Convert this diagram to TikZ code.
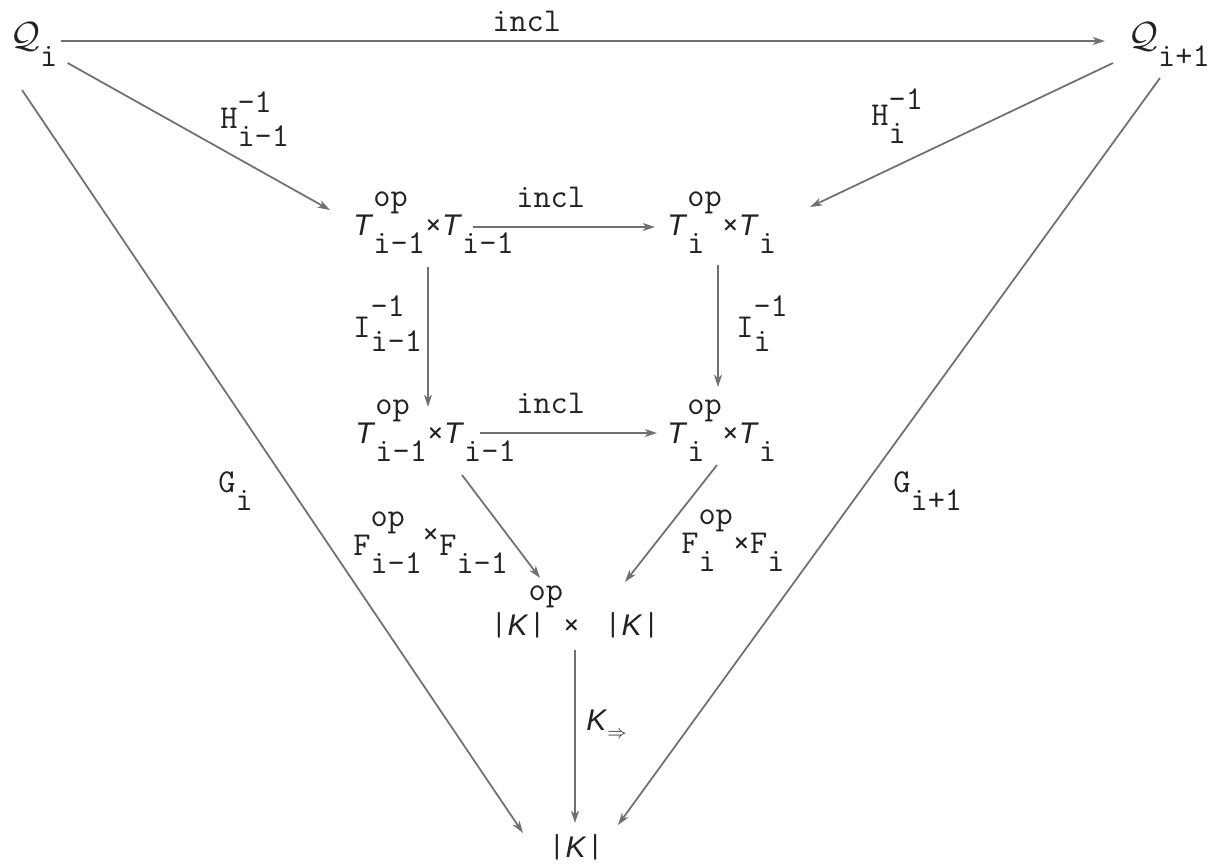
\documentclass[tikz,border=0pt]{standalone}
\usepackage{fontspec}
\setmainfont{Latin Modern Mono}
\setsansfont{Liberation Sans}
\usepackage{tikz}
\usetikzlibrary{arrows.meta,calc}
\definecolor{ink}{HTML}{222222}
\definecolor{lead}{HTML}{707070}
\newcommand{\subtx}[1]{\raisebox{-0.55em}{#1}}
\newcommand{\suptx}[1]{\raisebox{0.45em}{#1}}
\newcommand{\optx}[1]{\rlap{\raisebox{0.85em}{op}}\subtx{#1}}
\newcommand{\Tt}{{\fontsize{17}{20}\selectfont\textsf{\itshape T}}}
\newcommand{\Kk}{{\fontsize{17}{20}\selectfont\textsf{\itshape K}}}
\newcommand{\Qq}{{\fontsize{21}{24}\selectfont$\mathcal{Q}$}}

\begin{document}
\begin{tikzpicture}[
    x=0.02cm, y=-0.02cm,
    every node/.style={inner sep=0pt, text=ink, font=\fontsize{19}{22}\selectfont},
    obj/.style={anchor=base west},
    lbl/.style={anchor=base west},
    arr/.style={-{Stealth[length=7pt,width=4.5pt,inset=2pt]}, draw=lead, line width=1pt}
]
    \useasboundingbox (0,0) rectangle (1219,865);

    % Objects
    \node[obj] (Qi) at (10,48) {\Qq\subtx{i}};
    \node[obj] (Qj) at (1128,48) {\Qq\subtx{i+1}};
    \node[obj] (tl) at (353,235) {\Tt\optx{i-1}×\Tt\subtx{i-1}};
    \node[obj] (tr) at (667,235) {\Tt\optx{i}\ ×\Tt\subtx{i}};
    \node[obj] (bl) at (355,443) {\Tt\optx{i-1}×\Tt\subtx{i-1}};
    \node[obj] (br) at (667,443) {\Tt\optx{i}\ ×\Tt\subtx{i}};
    \node[obj] (mid) at (490,635) {|\Kk\rlap{\raisebox{1.02em}{op}}|\ ×\ \kern4pt|\Kk|};
    \node[obj] (bot) at (548,857) {|\Kk|};

    % Labels
    \node[lbl] (inclA) at (492,32) {incl};
    \node[lbl] (hA) at (220,128) {H\rlap{\suptx{-1}}\subtx{i-1}};
    \node[lbl] (hB) at (871,125) {H\rlap{\suptx{-1}}\subtx{i}};
    \node[lbl] (gA) at (218,492) {G\subtx{i}};
    \node[lbl] (gB) at (893,492) {G\subtx{i+1}};
    \node[lbl] (inclB) at (516,207) {incl};
    \node[lbl] (iA) at (353,337) {I\rlap{\raisebox{0.6em}{-1}}\raisebox{-0.43em}{i-1}};
    \node[lbl] (iB) at (736,337) {I\rlap{\raisebox{0.6em}{-1}}\raisebox{-0.43em}{i}};
    \node[lbl] (inclC) at (516,413) {incl};
    \node[lbl] (fA) at (353,555) {F\optx{i-1}\raisebox{0.3em}{×}F\subtx{i-1}};
    \node[lbl] (fB) at (681,553) {F\optx{i}\ ×F\subtx{i}};
    \node[lbl] (kA) at (586,730) {\Kk\raisebox{-0.25em}{\fontsize{11}{11}\selectfont$\Rightarrow$}};

    % Arrows
    \draw[arr] ($(Qi.base east)+(3,-7)$) -- ($(Qj.base west)+(-23,-7)$);
    \draw[arr] ($(Qi.base east)+(10,15)$) -- ($(tl.base west)+(-23,-25)$);
    \draw[arr] ($(Qj.base west)+(-15,15)$) -- ($(tr.base west)+(143,-28)$);
    \draw[arr] ($(Qi.base west)+(12,42)$) -- ($(bot.base west)+(-25,-24)$);
    \draw[arr] ($(Qj.base west)+(32,30)$) -- ($(bot.base west)+(70,-32)$);
    \draw[arr] ($(tl.base west)+(120,-8)$) -- ($(tr.base west)+(-12,-8)$);
    \draw[arr] ($(tl.base west)+(75,32)$) -- ($(bl.base west)+(73,-36)$);
    \draw[arr] ($(tr.base west)+(51,30)$) -- ($(br.base west)+(51,-56)$);
    \draw[arr] ($(bl.base west)+(125,-10)$) -- ($(br.base west)+(-10,-10)$);
    \draw[arr] ($(bl.base west)+(107,32)$) -- ($(mid.base west)+(50,-57)$);
    \draw[arr] ($(br.base west)+(50,22)$) -- ($(mid.base west)+(135,-53)$);
    \draw[arr] ($(mid.base west)+(85,15)$) -- ($(bot.base west)+(27,-34)$);
\end{tikzpicture}
\end{document}
